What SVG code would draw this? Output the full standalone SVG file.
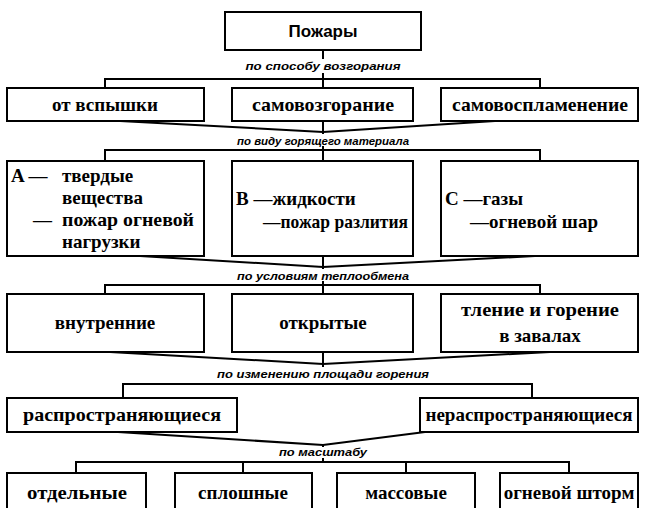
<svg xmlns="http://www.w3.org/2000/svg" width="646" height="508" viewBox="0 0 646 508">
  <style>
    .box { fill: #ffffff; stroke: #000000; stroke-width: 2; }
    .ln { fill: none; stroke: #000000; stroke-width: 2; }
    .t { font-family: "Liberation Serif", "Times New Roman", serif; font-weight: bold; font-size: 19px; fill: #000000; }
    .c { text-anchor: middle; }
    .head { font-family: "Liberation Sans", Arial, sans-serif; font-weight: bold; font-size: 17px; text-anchor: middle; fill: #000000; }
    .lbl { font-family: "Liberation Sans", Arial, sans-serif; font-weight: bold; font-style: italic; font-size: 11px; text-anchor: middle; fill: #000000; }
  </style>
  <rect width="646" height="508" fill="#ffffff"/>

  <!-- connectors -->
  <g id="connectors" class="ln">
    <!-- root to level 1 -->
    <polyline points="323,50 323,59"/>
    <polyline points="323,73 323,79"/>
    <polyline points="105,88 105,79 540,79 540,88"/>
    <polyline points="323,79 323,88"/>
    <!-- level 1 to level 2 -->
    <polyline points="120,121 323,132 495,121"/>
    <polyline points="323,121 323,134"/>
    <polyline points="323,146 323,150"/>
    <polyline points="105,161 105,150 540,150 540,161"/>
    <polyline points="323,150 323,161"/>
    <!-- level 2 to level 3 -->
    <polyline points="140,256 323,267 535,256"/>
    <polyline points="323,256 323,269"/>
    <polyline points="323,281 323,285"/>
    <polyline points="105,294 105,285 540,285 540,294"/>
    <polyline points="323,285 323,294"/>
    <!-- level 3 to level 4 -->
    <polyline points="110,352 323,364 550,352"/>
    <polyline points="323,352 323,367"/>
    <polyline points="123,398 123,384 532,384 532,398"/>
    <!-- level 4 to level 5 -->
    <polyline points="118,432 323,445 425,432"/>
    <polyline points="323,445 323,447"/>
    <polyline points="323,458 323,462"/>
    <polyline points="76,473 76,462 569,462 569,473"/>
    <polyline points="243,462 243,473"/>
    <polyline points="406,462 406,473"/>
  </g>

  <!-- edge labels -->
  <g id="labels">
    <text class="lbl" x="323" y="70" textLength="155" lengthAdjust="spacingAndGlyphs">по способу возгорания</text>
    <text class="lbl" x="323" y="145" textLength="172" lengthAdjust="spacingAndGlyphs">по виду горящего материала</text>
    <text class="lbl" x="323" y="280" textLength="172" lengthAdjust="spacingAndGlyphs">по условиям теплообмена</text>
    <text class="lbl" x="323" y="378" textLength="212" lengthAdjust="spacingAndGlyphs">по изменению площади горения</text>
    <text class="lbl" x="323" y="456" textLength="88" lengthAdjust="spacingAndGlyphs">по масштабу</text>
  </g>

  <!-- root -->
  <g id="fires">
    <rect class="box" x="225" y="12" width="196" height="38"/>
    <text class="head" x="323" y="37">Пожары</text>
  </g>

  <!-- by ignition -->
  <g id="flash">
    <rect class="box" x="7" y="88" width="197" height="33"/>
    <text class="t c" x="105" y="111">от вспышки</text>
  </g>
  <g id="self-heating">
    <rect class="box" x="232" y="88" width="181" height="33"/>
    <text class="t c" x="323" y="111" textLength="142" lengthAdjust="spacingAndGlyphs">самовозгорание</text>
  </g>
  <g id="self-ignition">
    <rect class="box" x="441" y="88" width="197" height="33"/>
    <text class="t c" x="540" y="111" textLength="176" lengthAdjust="spacingAndGlyphs">самовоспламенение</text>
  </g>

  <!-- by burning material -->
  <g id="class-a">
    <rect class="box" x="7" y="161" width="197" height="95"/>
    <text class="t" x="11" y="182">A —</text>
    <text class="t" x="62" y="182">твердые</text>
    <text class="t" x="62" y="204">вещества</text>
    <text class="t" x="33" y="226">—</text>
    <text class="t" x="62" y="226" textLength="132" lengthAdjust="spacingAndGlyphs">пожар огневой</text>
    <text class="t" x="62" y="248">нагрузки</text>
  </g>
  <g id="class-b">
    <rect class="box" x="232" y="161" width="181" height="95"/>
    <text class="t" x="236" y="205">B —жидкости</text>
    <text class="t" x="263" y="228" textLength="145" lengthAdjust="spacingAndGlyphs">—пожар разлития</text>
  </g>
  <g id="class-c">
    <rect class="box" x="441" y="161" width="197" height="95"/>
    <text class="t" x="445" y="205">C —газы</text>
    <text class="t" x="470" y="228">—огневой шар</text>
  </g>

  <!-- by heat exchange -->
  <g id="internal">
    <rect class="box" x="7" y="294" width="197" height="58"/>
    <text class="t c" x="105" y="329">внутренние</text>
  </g>
  <g id="open">
    <rect class="box" x="232" y="294" width="181" height="58"/>
    <text class="t c" x="323" y="329">открытые</text>
  </g>
  <g id="smouldering">
    <rect class="box" x="441" y="294" width="197" height="58"/>
    <text class="t c" x="540" y="316" textLength="158" lengthAdjust="spacingAndGlyphs">тление и горение</text>
    <text class="t c" x="540" y="342">в завалах</text>
  </g>

  <!-- by burning area -->
  <g id="spreading">
    <rect class="box" x="7" y="398" width="230" height="34"/>
    <text class="t c" x="122" y="421" textLength="198" lengthAdjust="spacingAndGlyphs">распространяющиеся</text>
  </g>
  <g id="non-spreading">
    <rect class="box" x="420" y="398" width="218" height="34"/>
    <text class="t c" x="529" y="421">нераспространяющиеся</text>
  </g>

  <!-- by scale -->
  <g id="single">
    <rect class="box" x="7" y="473" width="139" height="44"/>
    <text class="t c" x="77" y="499" textLength="100" lengthAdjust="spacingAndGlyphs">отдельные</text>
  </g>
  <g id="continuous">
    <rect class="box" x="175" y="473" width="137" height="44"/>
    <text class="t c" x="243" y="499">сплошные</text>
  </g>
  <g id="mass">
    <rect class="box" x="337" y="473" width="138" height="44"/>
    <text class="t c" x="406" y="499">массовые</text>
  </g>
  <g id="firestorm">
    <rect class="box" x="500" y="473" width="138" height="44"/>
    <text class="t c" x="569" y="499">огневой шторм</text>
  </g>
</svg>
